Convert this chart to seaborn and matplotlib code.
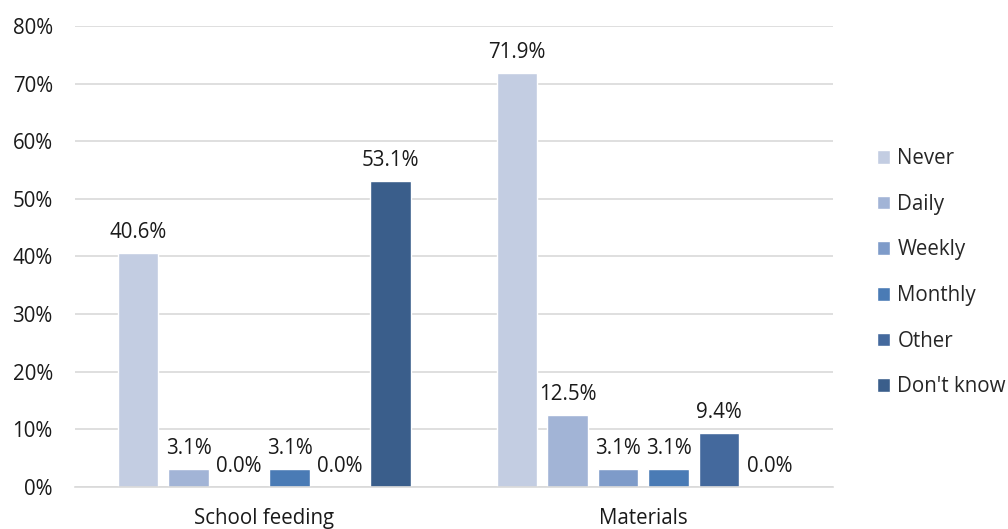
import matplotlib
matplotlib.use("Agg")
import matplotlib.pyplot as plt
import seaborn as sns
import pandas as pd
from matplotlib.ticker import FuncFormatter

categories = ["School feeding", "Materials"]
series = ["Never", "Daily", "Weekly", "Monthly", "Other", "Don't know"]
values = {
    "Never": [40.6, 71.9],
    "Daily": [3.1, 12.5],
    "Weekly": [0.0, 3.1],
    "Monthly": [3.1, 3.1],
    "Other": [0.0, 9.4],
    "Don't know": [53.1, 0.0],
}
colors = ["#c3cde2", "#a2b4d6", "#7e9bc9", "#4a7bb5", "#44699d", "#3a5e8b"]

rows = []
for s in series:
    for c, v in zip(categories, values[s]):
        rows.append({"category": c, "series": s, "value": v})
df = pd.DataFrame(rows)

sns.set_theme(style="white")
plt.rcParams["font.family"] = ["Open Sans", "DejaVu Sans"]

FS = 14.8
fig = plt.figure(figsize=(10.08, 5.29), dpi=100)
ax = fig.add_axes([0.0744, 0.0794, 0.7516, 0.8716])

sns.barplot(data=df, x="category", y="value", hue="series", hue_order=series,
            order=categories, palette=colors, width=0.8, gap=0.2, ax=ax,
            legend=True, errorbar=None, saturation=1)

for cont in ax.containers:
    ax.bar_label(cont, labels=[f"{b.get_height():.1f}%" for b in cont],
                 padding=7, fontsize=FS, color="#1a1a1a")

ax.set_ylim(0, 80)
ax.set_yticks(range(0, 81, 10))
ax.yaxis.set_major_formatter(FuncFormatter(lambda v, p: f"{int(v)}%"))
ax.grid(axis="y", color="#d9d9d9", linewidth=1.2)
ax.set_axisbelow(True)
for sp in ["top", "right", "left"]:
    ax.spines[sp].set_visible(False)
ax.spines["bottom"].set_color("#d9d9d9")
ax.spines["bottom"].set_linewidth(1.2)
ax.set_xlabel("")
ax.set_ylabel("")
ax.tick_params(axis="both", labelsize=FS, colors="#1a1a1a", length=0)
ax.tick_params(axis="y", pad=16)
ax.tick_params(axis="x", pad=15)

leg = ax.legend(loc="center left", bbox_to_anchor=(1.034, 0.465), frameon=False,
                fontsize=FS, handlelength=0.65, handleheight=0.65,
                handletextpad=0.35, labelspacing=1.2)

fig.savefig("out.png", dpi=100)
